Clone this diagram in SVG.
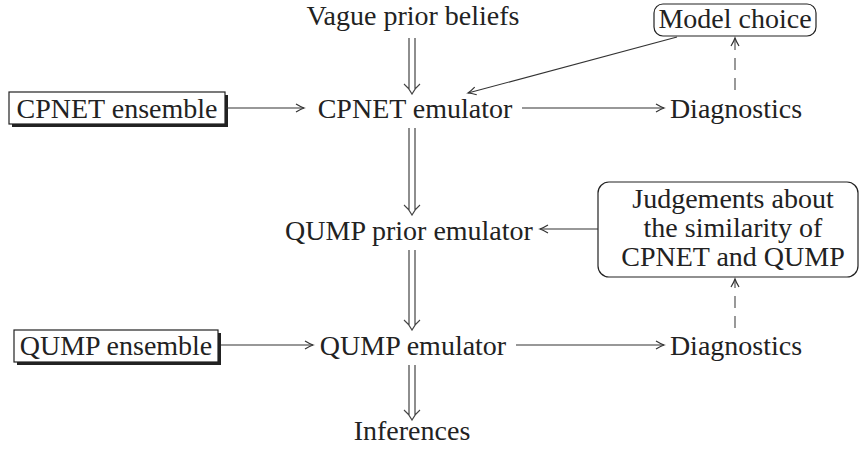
<svg xmlns="http://www.w3.org/2000/svg" width="861" height="449" viewBox="0 0 861 449">
<style>
text{font-family:'Liberation Serif','Tinos','DejaVu Serif',serif;font-size:28px;fill:#222;text-anchor:middle}
.ln{stroke:#333;stroke-width:1.2;fill:none}
.ds{stroke:#555;stroke-width:1.2;fill:none;stroke-dasharray:12 8}
.box{fill:#fff;stroke:#222;stroke-width:1.2}
.sh{fill:#222}
.dbl{stroke:#444;stroke-width:1.2;fill:none}
</style>
<defs>
<marker id="ah" markerWidth="12" markerHeight="12" viewBox="-10 -6 12 12" refX="0" refY="0" orient="auto" markerUnits="userSpaceOnUse">
<path d="M -8 -4 Q -3 -1 0 0 Q -3 1 -8 4" stroke="#333" stroke-width="1.2" fill="none"/>
</marker>
</defs>
<g id="vague"><text x="413" y="25" font-family="Liberation Serif">Vague prior beliefs</text></g>
<g id="modelchoice"><rect class="box" x="654" y="4" width="162" height="32" rx="9"/><text x="735" y="28" font-family="Liberation Serif">Model choice</text></g>
<g id="cpnetens"><rect class="sh" x="12" y="95" width="216" height="32"/><rect class="box" x="9" y="92" width="216" height="32"/><text x="117" y="118" font-family="Liberation Serif">CPNET ensemble</text></g>
<g id="cpnetemu"><text x="415" y="118" font-family="Liberation Serif">CPNET emulator</text></g>
<g id="diag1"><text x="736" y="118" font-family="Liberation Serif">Diagnostics</text></g>
<g id="qumpprior"><text x="409" y="240" font-family="Liberation Serif">QUMP prior emulator</text></g>
<g id="judge"><rect class="box" x="598" y="182" width="260" height="95" rx="11"/><text x="733" y="208" font-family="Liberation Serif">Judgements about</text><text x="733" y="237" font-family="Liberation Serif">the similarity of</text><text x="733" y="266" font-family="Liberation Serif">CPNET and QUMP</text></g>
<g id="qumpens"><rect class="sh" x="17" y="333" width="204" height="32"/><rect class="box" x="14" y="330" width="204" height="32"/><text x="116" y="355" font-family="Liberation Serif">QUMP ensemble</text></g>
<g id="qumpemu"><text x="413" y="355" font-family="Liberation Serif">QUMP emulator</text></g>
<g id="diag2"><text x="736" y="355" font-family="Liberation Serif">Diagnostics</text></g>
<g id="inferences"><text x="412" y="440" font-family="Liberation Serif">Inferences</text></g>
<g id="connectors">
<line class="ln" x1="226" y1="108" x2="304" y2="108" marker-end="url(#ah)"/>
<line class="ln" x1="522" y1="108" x2="664" y2="108" marker-end="url(#ah)"/>
<line class="ds" x1="735" y1="90" x2="735" y2="38" marker-end="url(#ah)"/>
<line class="ln" x1="677" y1="37" x2="468" y2="93" marker-end="url(#ah)"/>
<line class="ln" x1="598" y1="229" x2="540" y2="229" marker-end="url(#ah)"/>
<line class="ds" x1="735" y1="328" x2="735" y2="279" marker-end="url(#ah)"/>
<line class="ln" x1="221" y1="345" x2="313" y2="345" marker-end="url(#ah)"/>
<line class="ln" x1="516" y1="345" x2="664" y2="345" marker-end="url(#ah)"/>
<path class="dbl" d="M409 38 V89 M415 38 V89 M404 84 Q409 88 412 94 Q415 88 420 84"/>
<path class="dbl" d="M409 128 V210 M415 128 V210 M404 205 Q409 209 412 215 Q415 209 420 205"/>
<path class="dbl" d="M409 250 V325 M415 250 V325 M404 320 Q409 324 412 330 Q415 324 420 320"/>
<path class="dbl" d="M409 365 V415 M415 365 V415 M404 410 Q409 414 412 420 Q415 414 420 410"/>
</g>
</svg>
